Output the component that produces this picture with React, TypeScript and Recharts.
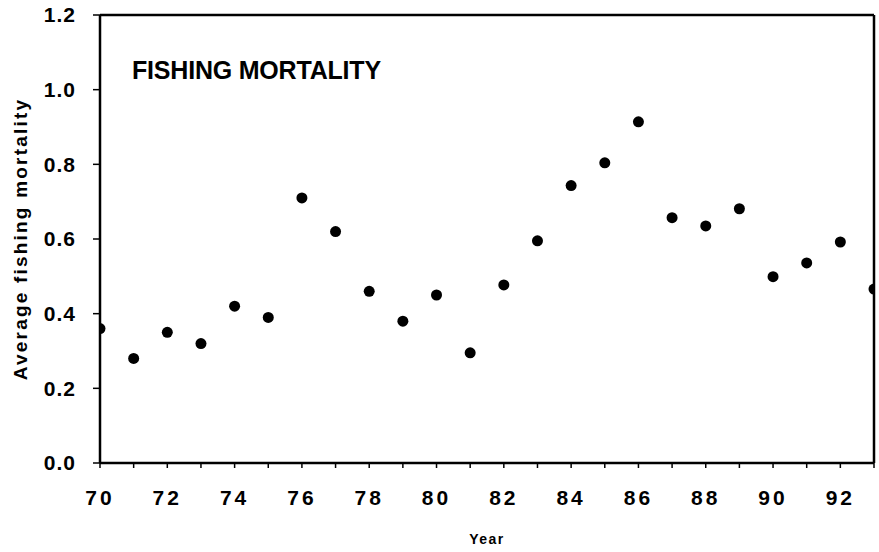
import React from 'react';
import {
  ScatterChart,
  Scatter,
  XAxis,
  YAxis,
  ReferenceLine,
} from 'recharts';

const years = [70, 71, 72, 73, 74, 75, 76, 77, 78, 79, 80, 81, 82, 83, 84, 85, 86, 87, 88, 89, 90, 91, 92, 93];
const mortality = [
  0.36, 0.28, 0.35, 0.32, 0.42, 0.39, 0.71, 0.62, 0.46, 0.38, 0.45, 0.295,
  0.477, 0.595, 0.743, 0.804, 0.914, 0.657, 0.635, 0.681, 0.499, 0.536, 0.592, 0.466,
];
const yTicks = [0, 0.2, 0.4, 0.6, 0.8, 1.0, 1.2];
const xLabels = [70, 72, 74, 76, 78, 80, 82, 84, 86, 88, 90, 92];

const points = years.map((year, i) => ({ year, value: mortality[i] }));

const font = '"Liberation Sans", Arial, sans-serif';

const Dot = (props: any) => <circle cx={props.cx} cy={props.cy} r={5.5} fill="#000" />;

export default function App() {
  return (
    <div style={{ position: 'absolute', left: 0, top: 0, width: 879, height: 552, background: '#fff' }}>
      <ScatterChart width={879} height={552} margin={{ top: 15, right: 5, left: 0, bottom: 0 }}>
        <XAxis
          type="number"
          dataKey="year"
          domain={[70, 93]}
          ticks={years}
          interval={0}
          allowDataOverflow
          tickFormatter={(v: number) => (xLabels.includes(v) ? String(v) : '')}
          height={89}
          tickSize={5}
          tickMargin={22}
          axisLine={{ stroke: '#000', strokeWidth: 2.5 }}
          tickLine={{ stroke: '#000', strokeWidth: 1.5 }}
          tick={{ fill: '#000', fontSize: 21, fontWeight: 700, fontFamily: font, letterSpacing: 3 }}
          label={{
            value: 'Year',
            position: 'insideBottom',
            offset: 8,
            style: { fill: '#000', fontSize: 14, fontWeight: 700, fontFamily: font, letterSpacing: 1.5 },
          }}
        />
        <YAxis
          type="number"
          dataKey="value"
          domain={[0, 1.2]}
          ticks={yTicks}
          interval={0}
          width={100}
          tickSize={7}
          tickMargin={17}
          tickFormatter={(v: number) => v.toFixed(1)}
          axisLine={{ stroke: '#000', strokeWidth: 2.5 }}
          tickLine={{ stroke: '#000', strokeWidth: 1.5 }}
          tick={{ fill: '#000', fontSize: 21, fontWeight: 700, fontFamily: font, letterSpacing: 1 }}
          label={{
            value: 'Average fishing mortality',
            angle: -90,
            position: 'insideLeft',
            offset: 20,
            style: { textAnchor: 'middle', fill: '#000', fontSize: 19, fontWeight: 700, fontFamily: font, letterSpacing: 2.2 },
          }}
        />
        <ReferenceLine y={1.2} stroke="#000" strokeWidth={2.5} />
        <ReferenceLine x={93} stroke="#000" strokeWidth={2.5} />
        <Scatter data={points} shape={Dot} isAnimationActive={false} />
      </ScatterChart>
      <div
        style={{
          position: 'absolute',
          left: 132,
          top: 56,
          fontFamily: font,
          fontWeight: 700,
          fontSize: 25,
          letterSpacing: -0.2,
          color: '#000',
          whiteSpace: 'nowrap',
        }}
      >
        FISHING MORTALITY
      </div>
    </div>
  );
}
